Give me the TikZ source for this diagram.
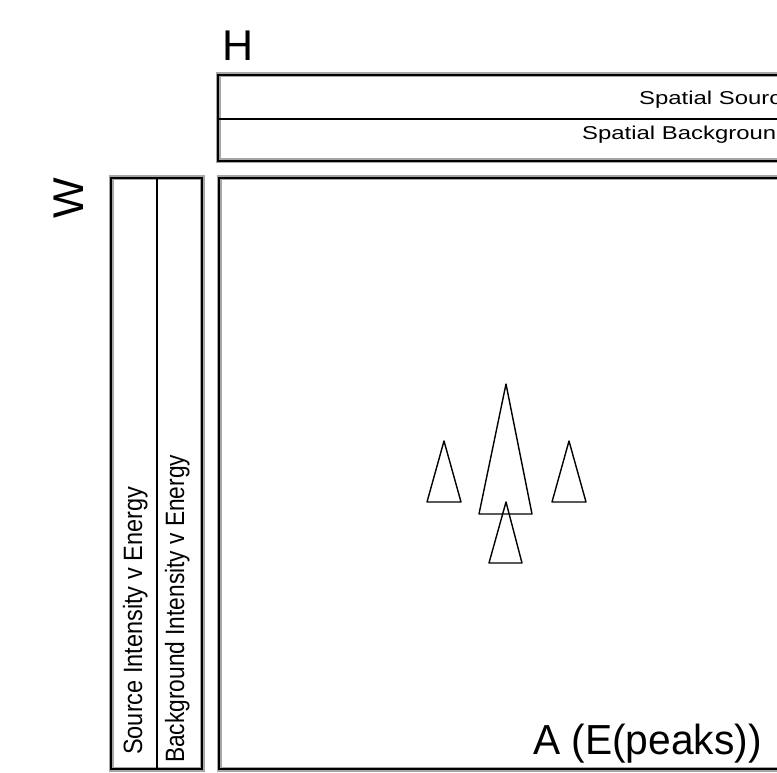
\documentclass[tikz,border=0pt]{standalone}
\usepackage{fontspec}
\setmainfont{Liberation Sans}
\usepackage{graphicx}
\begin{document}
\begin{tikzpicture}[x=1pt,y=-1pt,
  halo/.style={draw=black!35, line width=5pt},
  frame/.style={draw=black, line width=2.6pt},
  divider/.style={draw=black, line width=1.8pt},
  peak/.style={draw=black, line width=1.4pt, line join=round},
  lbl/.style={anchor=base west, inner sep=0pt, text=black}]
\useasboundingbox (0,0) rectangle (777,773);
\clip (0,0) rectangle (777,773);

% top box (H)
\draw[halo] (218,75) rectangle (830,161);
\draw[frame] (218,75) rectangle (830,161);
\draw[divider] (218,119) -- (830,119);

% left box (W)
\draw[halo] (111,178) rectangle (202,769);
\draw[frame] (111,178) rectangle (202,769);
\draw[divider] (157,178) -- (157,769);

% main box (A)
\draw[halo] (219,178) rectangle (830,769);
\draw[frame] (219,178) rectangle (830,769);

% labels
\node[lbl, font=\fontsize{43}{45}\selectfont] (h) at (222.6,61) {H};
\node[lbl, rotate=90, font=\fontsize{43}{45}\selectfont] (w) at (83,218.5) {W};
\node[lbl, font=\fontsize{18.6}{20}\selectfont] (ss) at (639,105) {\scalebox{1.285}[1]{Spatial Source}};
\node[lbl, font=\fontsize{18.6}{20}\selectfont] (sb) at (582,140) {\scalebox{1.285}[1]{Spatial Background}};
\node[lbl, rotate=90, font=\fontsize{26.5}{28}\selectfont] (si) at (142,755) {\scalebox{0.887}[1]{Source Intensity v Energy}};
\node[lbl, rotate=90, font=\fontsize{26.5}{28}\selectfont] (bi) at (184,763) {\scalebox{0.857}[1]{Background Intensity v Energy}};
\node[lbl, font=\fontsize{42}{44}\selectfont] (a) at (533,754) {\scalebox{0.97}[1]{A (E(peaks))}};

% peaks
\draw[peak] (506,384) -- (532,514) -- (479,514) -- cycle;
\draw[peak] (444,441) -- (461,502) -- (427,502) -- cycle;
\draw[peak] (569,441) -- (586,502) -- (552,502) -- cycle;
\draw[peak] (506,502) -- (522,563) -- (489,563) -- cycle;
\end{tikzpicture}
\end{document}
